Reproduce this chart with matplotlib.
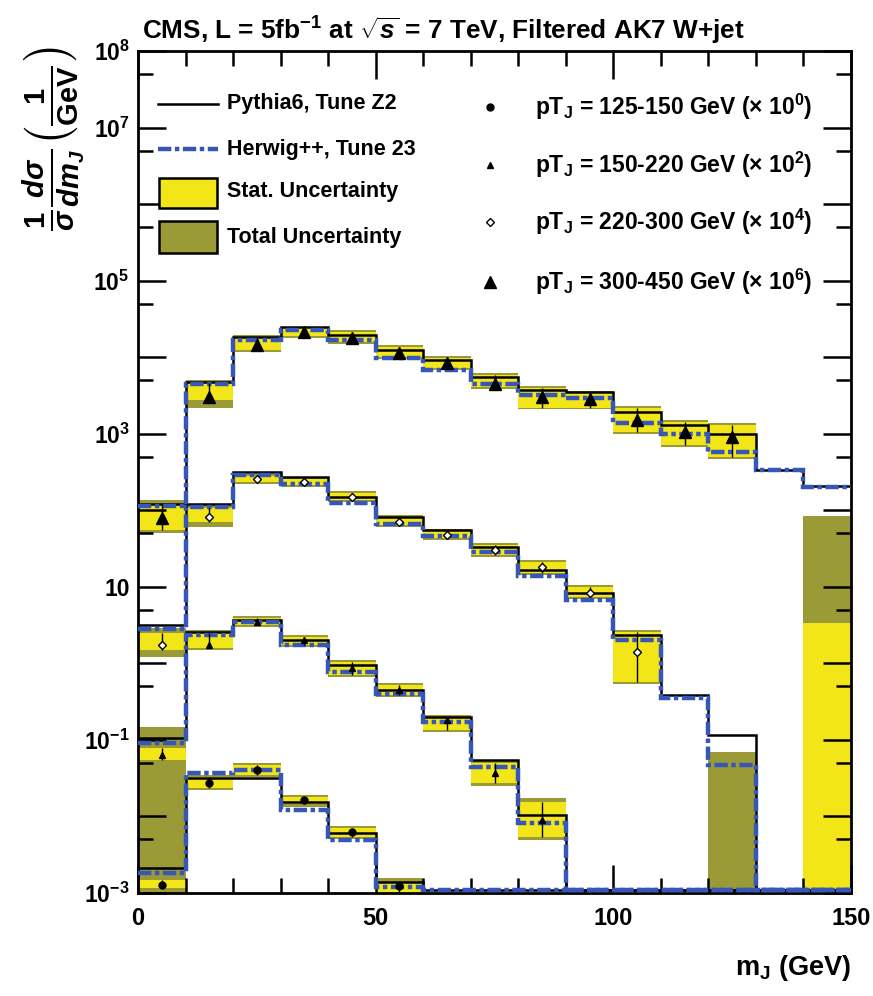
import numpy as np
import matplotlib
matplotlib.use('Agg')
import matplotlib.pyplot as plt
from matplotlib.patches import Rectangle
from matplotlib.lines import Line2D

plt.rcParams['font.family'] = ['Liberation Sans', 'DejaVu Sans']
plt.rcParams['font.weight'] = 'bold'
plt.rcParams['mathtext.fontset'] = 'custom'
plt.rcParams['mathtext.rm'] = 'Liberation Sans:bold'
plt.rcParams['mathtext.it'] = 'Liberation Sans:italic:bold'
plt.rcParams['mathtext.bf'] = 'Liberation Sans:bold'

nan = np.nan
edges = np.arange(0, 151, 10)

# ---------------- data (normalised 1/sigma dsigma/dm, 1/GeV) ----------------
# pT 125-150 GeV  (x 10^0)
py125 = [2.1e-3, 3.2e-2, 3.2e-2, 1.55e-2, 6.1e-3, 1.4e-3, 0, 0, 0, 0, 0, 0, 0, 0, 0]
hw125 = [1.8e-3, 3.7e-2, 4.05e-2, 1.22e-2, 4.9e-3, 1.2e-3, 0, 0, 0, 0, 0, 0, 0, 0, 0]
data125 = [1.27e-3, 2.74e-2, 4.05e-2, 1.65e-2, 6.3e-3, 1.25e-3, nan, nan, nan, nan, nan, nan, nan, nan, nan]
stat_lo125 = [1.15e-3, 2.36e-2, 3.48e-2, 1.45e-2, 5.4e-3, 0, nan, nan, nan, nan, nan, nan, nan, nan, nan]
stat_hi125 = [1.5e-3, 3.28e-2, 4.71e-2, 1.8e-2, 7.1e-3, 1.35e-3, nan, nan, nan, nan, nan, nan, nan, nan, nan]
tot_lo125 = [0, 2.22e-2, 3.28e-2, 1.33e-2, 5.1e-3, 0, nan, nan, nan, nan, nan, nan, nan, nan, nan]
tot_hi125 = [2.54e-3, 3.48e-2, 5.0e-2, 1.9e-2, 7.5e-3, 1.57e-3, nan, nan, nan, nan, nan, nan, nan, nan, nan]

# pT 150-220 GeV  (x 10^2)
py150 = [1.06e-3, 2.57e-2, 3.69e-2, 2.02e-2, 9.5e-3, 4.5e-3, 2.0e-3, 5.5e-4, 1.05e-4, 0, 0, 0, 0, 0, 0]
hw150 = [9.1e-4, 2.35e-2, 3.47e-2, 1.74e-2, 7.7e-3, 4.0e-3, 1.71e-3, 4.4e-4, 8.2e-5, 0, 0, 0, 0, 0, 0]
data150 = [6.4e-4, 1.74e-2, 3.47e-2, 2.02e-2, 8.7e-3, 4.5e-3, 1.82e-3, 3.7e-4, 9.0e-5, nan, nan, nan, nan, nan, nan]
stat_lo150 = [5.5e-4, 1.59e-2, 3.18e-2, 1.74e-2, 7.0e-3, 3.86e-3, 1.35e-3, 2.7e-4, 5.4e-5, nan, nan, nan, nan, nan, nan]
stat_hi150 = [7.9e-4, 2.49e-2, 3.92e-2, 2.21e-2, 1.04e-2, 5.2e-3, 2.0e-3, 5.0e-4, 1.55e-4, nan, nan, nan, nan, nan, nan]
tot_lo150 = [2.0e-5, 1.50e-2, 2.99e-2, 1.64e-2, 6.6e-3, 3.64e-3, 1.27e-3, 2.5e-4, 4.9e-5, nan, nan, nan, nan, nan, nan]
tot_hi150 = [1.48e-3, 2.73e-2, 4.16e-2, 2.35e-2, 1.11e-2, 5.55e-3, 2.12e-3, 5.5e-4, 1.75e-4, nan, nan, nan, nan, nan, nan]

# pT 220-300 GeV  (x 10^4)
py220 = [3.2e-4, 1.21e-2, 3.16e-2, 2.72e-2, 1.49e-2, 8.2e-3, 5.5e-3, 3.3e-3, 1.66e-3, 8.3e-4, 2.35e-4, 3.9e-5, 1.16e-5, 0, 0]
hw220 = [2.8e-4, 1.10e-2, 2.89e-2, 2.21e-2, 1.24e-2, 6.6e-3, 4.6e-3, 2.85e-3, 1.39e-3, 6.7e-4, 2.0e-4, 3.5e-5, 4.7e-6, 0, 0]
data220 = [1.74e-4, 8.2e-3, 2.56e-2, 2.34e-2, 1.49e-2, 7.0e-3, 4.75e-3, 3.0e-3, 1.82e-3, 8.3e-4, 1.41e-4, nan, nan, nan, nan]
stat_lo220 = [1.5e-4, 7.0e-3, 2.34e-2, 2.14e-2, 1.36e-2, 6.4e-3, 4.35e-3, 2.6e-3, 1.52e-3, 7.4e-4, 5.7e-5, nan, nan, nan, nan]
stat_hi220 = [2.5e-4, 1.07e-2, 2.81e-2, 2.56e-2, 1.68e-2, 8.2e-3, 5.4e-3, 3.5e-3, 2.1e-3, 1.0e-3, 2.6e-4, nan, nan, nan, nan]
tot_lo220 = [1.2e-4, 6.0e-3, 2.21e-2, 2.01e-2, 1.28e-2, 6.0e-3, 4.1e-3, 2.45e-3, 1.43e-3, 6.9e-4, 5.4e-5, nan, 0, nan, nan]
tot_hi220 = [2.9e-4, 1.17e-2, 2.98e-2, 2.72e-2, 1.79e-2, 8.7e-3, 5.7e-3, 3.75e-3, 2.25e-3, 1.06e-3, 2.7e-4, nan, 7.0e-6, nan, nan]

# pT 300-450 GeV  (x 10^6)
py300 = [1.21e-4, 4.74e-3, 1.84e-2, 2.48e-2, 1.95e-2, 1.24e-2, 9.2e-3, 5.5e-3, 3.7e-3, 3.5e-3, 1.9e-3, 1.3e-3, 1.0e-3, 3.4e-4, 2.1e-4]
hw300 = [1.14e-4, 4.5e-3, 1.68e-2, 2.26e-2, 1.68e-2, 9.8e-3, 6.8e-3, 4.5e-3, 3.2e-3, 2.9e-3, 1.4e-3, 1.0e-3, 5.8e-4, 3.4e-4, 2.0e-4]
data300 = [7.9e-5, 3.0e-3, 1.44e-2, 2.13e-2, 1.78e-2, 1.14e-2, 8.4e-3, 4.5e-3, 3.0e-3, 2.8e-3, 1.5e-3, 1.05e-3, 9.1e-4, nan, nan]
stat_lo300 = [5.5e-5, 2.76e-3, 1.24e-2, 1.89e-2, 1.58e-2, 1.01e-2, 7.2e-3, 4.1e-3, 2.2e-3, 2.2e-3, 1.05e-3, 7.1e-4, 5.0e-4, nan, 0]
stat_hi300 = [1.17e-4, 4.6e-3, 1.84e-2, 2.4e-2, 2.13e-2, 1.36e-2, 9.8e-3, 5.9e-3, 4.0e-3, 3.4e-3, 2.17e-3, 1.42e-3, 1.3e-3, nan, 3.4e-6]
tot_lo300 = [5.0e-5, 2.17e-3, 1.17e-2, 1.78e-2, 1.49e-2, 9.5e-3, 6.8e-3, 3.85e-3, 2.1e-3, 2.1e-3, 9.9e-4, 6.7e-4, 4.7e-4, nan, 0]
tot_hi300 = [1.36e-4, 5.0e-3, 1.95e-2, 2.48e-2, 2.26e-2, 1.44e-2, 1.04e-2, 6.2e-3, 4.2e-3, 3.6e-3, 2.3e-3, 1.5e-3, 1.38e-3, nan, 8.4e-5]

pt_ranges = ['125-150', '150-220', '220-300', '300-450']
scale_exp = [0, 2, 4, 6]

series = [
    dict(py=py125, hw=hw125, data=data125, slo=stat_lo125, shi=stat_hi125, tlo=tot_lo125, thi=tot_hi125,
         marker='o', ms=5, mfc='black'),
    dict(py=py150, hw=hw150, data=data150, slo=stat_lo150, shi=stat_hi150, tlo=tot_lo150, thi=tot_hi150,
         marker='^', ms=5, mfc='black'),
    dict(py=py220, hw=hw220, data=data220, slo=stat_lo220, shi=stat_hi220, tlo=tot_lo220, thi=tot_hi220,
         marker='D', ms=4.5, mfc='white'),
    dict(py=py300, hw=hw300, data=data300, slo=stat_lo300, shi=stat_hi300, tlo=tot_lo300, thi=tot_hi300,
         marker='^', ms=9, mfc='black'),
]

YEL = '#f2e619'
OLV = '#9a9a36'
BLU = '#3656b8'
YMIN, YMAX = 1e-3, 1e8
floor_line = 1.08e-3
floor_band = 1e-4

W, H = 873, 996
fig = plt.figure(figsize=(W / 100, H / 100), dpi=100)
ax = fig.add_axes([138 / W, 1 - 893 / H, (851 - 138) / W, (893 - 51) / H])

lefts = edges[:-1]
centers = 0.5 * (edges[:-1] + edges[1:])

def band(lo, hi, sc, color):
    lo = np.array(lo, float) * sc
    hi = np.array(hi, float) * sc
    m = ~(np.isnan(lo) | np.isnan(hi))
    lo_c = np.where(lo > 0, lo, floor_band)
    ax.bar(lefts[m], (hi - lo_c)[m], bottom=lo_c[m], width=10, align='edge',
           color=color, linewidth=0, zorder=1)

for s, e in zip(series, scale_exp):
    sc = 10.0 ** e
    band(s['tlo'], s['thi'], sc, OLV)
    band(s['slo'], s['shi'], sc, YEL)

for s, e in zip(series, scale_exp):
    sc = 10.0 ** e
    v = np.array(s['py'], float) * sc
    v = np.where(v > 0, v, floor_line)
    ax.stairs(v, edges, baseline=None, color='black', lw=1.8, zorder=3)

for s, e in zip(series, scale_exp):
    sc = 10.0 ** e
    v = np.array(s['hw'], float) * sc
    v = np.where(v > 0, v, floor_line)
    ax.stairs(v, edges, baseline=None, color=BLU, lw=3.2, ls=(0, (3, 0.8, 1, 0.8)), zorder=4)

for s, e in zip(series, scale_exp):
    sc = 10.0 ** e
    d = np.array(s['data'], float) * sc
    lo = np.array(s['slo'], float) * sc
    hi = np.array(s['shi'], float) * sc
    m = ~np.isnan(d)
    ax.vlines(centers[m], np.maximum(lo[m], floor_band), hi[m], color='black', lw=1.0, zorder=5)
    ax.plot(centers[m], d[m], ls='none', marker=s['marker'], ms=s['ms'], mfc=s['mfc'],
            mec='black', mew=1.0, zorder=6)

ax.set_xlim(0, 150)
ax.set_yscale('log')
ax.set_ylim(YMIN, YMAX)

ax.set_xticks([0, 50, 100, 150])
ax.set_xticks(np.arange(0, 151, 10), minor=True)
ax.set_xticklabels(['0', '50', '100', '150'], fontsize=17)

maj = [10.0 ** k for k in range(-3, 9)]
lab_map = {8: r'$\mathregular{10^{8}}$', 7: r'$\mathregular{10^{7}}$', 5: r'$\mathregular{10^{5}}$',
           3: r'$\mathregular{10^{3}}$', 1: '10', -1: r'$\mathregular{10^{-1}}$', -3: r'$\mathregular{10^{-3}}$'}
ax.set_yticks(maj)
ax.set_yticklabels([lab_map.get(k, '') for k in range(-3, 9)], fontsize=16.5)
ax.set_yticks([5 * 10.0 ** k for k in range(-3, 8)], minor=True)
ax.yaxis.set_minor_formatter(matplotlib.ticker.NullFormatter())

ax.tick_params(which='both', direction='in', top=True, right=True, width=1.8, colors='black')
ax.tick_params(which='major', length=20)
ax.tick_params(which='minor', length=11)
ax.tick_params(axis='x', which='major', pad=10)
ax.tick_params(axis='y', which='major', pad=6)
for sp in ax.spines.values():
    sp.set_linewidth(2)

def fx(x):
    return x / W

def fy(y):
    return 1 - y / H

# title
fig.text(fx(142), fy(40), r'CMS, L = 5fb$^{-1}$ at $\sqrt{s}$ = 7 TeV, Filtered AK7 W+jet',
         fontsize=18.8, ha='left', va='baseline')

# y label
fig.text(fx(54), fy(46), r'$\frac{1}{\sigma}\frac{d\sigma}{dm_{J}}\left(\frac{1}{\mathrm{GeV}}\right)$',
         fontsize=30, rotation=90, ha='center', va='top')

# x label
fig.text(fx(851), fy(968), r'm$_{\mathregular{J}}$ (GeV)', fontsize=19.5, ha='right', va='center')

# left legend
lfs = 15.5
fig.add_artist(Line2D([fx(158), fx(218)], [fy(104), fy(104)], color='black', lw=1.8))
fig.text(fx(227), fy(104), 'Pythia6, Tune Z2', fontsize=lfs, ha='left', va='center')
fig.add_artist(Line2D([fx(158), fx(218)], [fy(149), fy(149)], color=BLU, lw=3.2, ls=(0, (3, 0.8, 1, 0.8))))
fig.text(fx(227), fy(149), 'Herwig++, Tune 23', fontsize=lfs, ha='left', va='center')
fig.add_artist(Rectangle((fx(159), fy(208)), fx(217) - fx(159), fy(178) - fy(208),
                         facecolor=YEL, edgecolor='black', lw=1.8, transform=fig.transFigure))
fig.text(fx(227), fy(192), 'Stat. Uncertainty', fontsize=lfs, ha='left', va='center')
fig.add_artist(Rectangle((fx(159), fy(253)), fx(217) - fx(159), fy(221) - fy(253),
                         facecolor=OLV, edgecolor='black', lw=1.8, transform=fig.transFigure))
fig.text(fx(227), fy(237), 'Total Uncertainty', fontsize=lfs, ha='left', va='center')

# right legend
ys = [107, 165, 222, 282]
for s, pr, e, yy in zip(series, pt_ranges, scale_exp, ys):
    fig.add_artist(Line2D([fx(490)], [fy(yy)], ls='none', marker=s['marker'], ms=s['ms'],
                          mfc=s['mfc'], mec='black', mew=1.0))
    fig.text(fx(535), fy(yy), r'pT$_{\mathregular{J}}$ = %s GeV ($\times$ 10$^{%d}$)' % (pr, e),
             fontsize=16.5, ha='left', va='center')

fig.savefig('out.png', dpi=100)
